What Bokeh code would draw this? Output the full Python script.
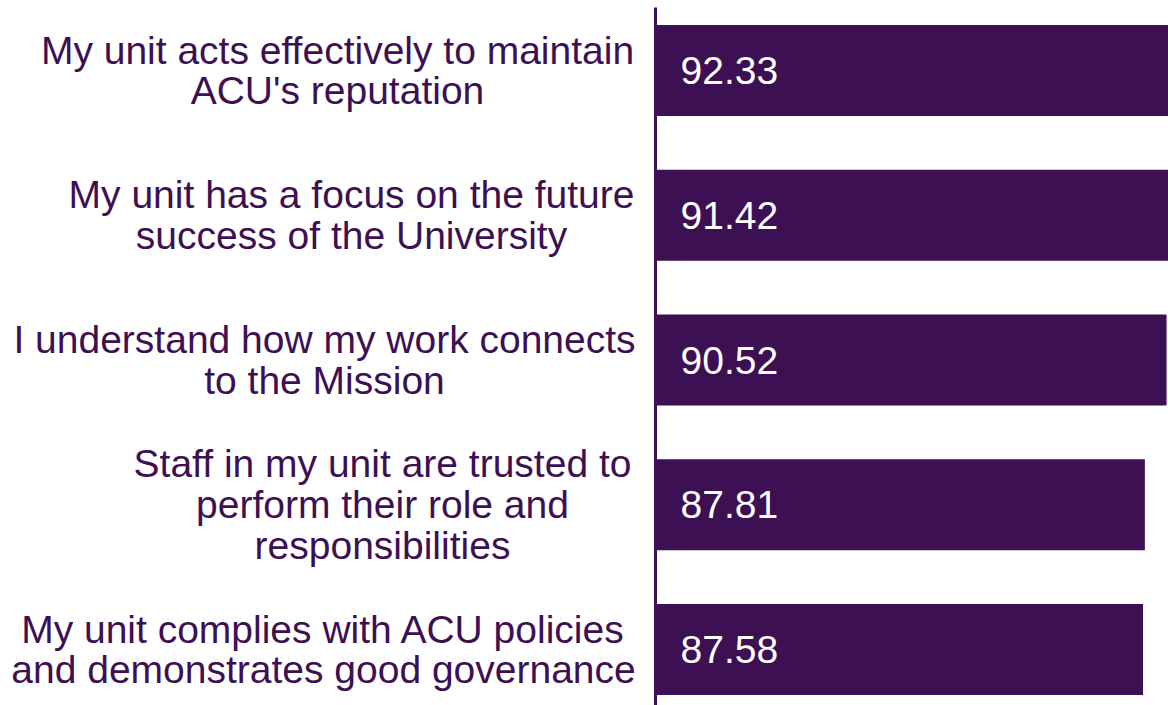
from bokeh.plotting import figure
from bokeh.layouts import row
from bokeh.models import ColumnDataSource, Range1d
from bokeh.core.properties import value
from bokeh.embed import file_html
from bokeh.resources import INLINE

# ---- data ----
categories = [
    "My unit acts effectively to maintain\nACU's reputation",
    "My unit has a focus on the future\nsuccess of the University",
    "I understand how my work connects\nto the Mission",
    "Staff in my unit are trusted to\nperform their role and\nresponsibilities",
    "My unit complies with ACU policies\nand demonstrates good governance",
]
scores = [92.33, 91.42, 90.52, 87.81, 87.58]
score_labels = ["92.33", "91.42", "90.52", "87.81", "87.58"]

# ---- layout / style constants ----
PURPLE = "#3C1053"
FONT = "Liberation Sans"
FS = "39px"
H = 705
LEFT_W = 650
RIGHT_W = 518
PX_PER_UNIT = 8.0
ROW_PX = 144.75
FIRST_ROW_PX = 70.0
BAR_PX = 91.0
BAR_START = 26.64            # value at which bars begin (axis position)
label_cx = [337, 351, 324, 382, 323]   # horizontal centres of label blocks (page px)

ypos = list(range(len(categories)))
y_top = -FIRST_ROW_PX / ROW_PX
y_bot = y_top + H / ROW_PX
y_range = Range1d(start=y_bot, end=y_top)

# ---- left figure: category labels ----
left = figure(width=LEFT_W, height=H, output_backend="svg", toolbar_location=None,
              x_range=Range1d(0, LEFT_W), y_range=y_range, min_border=0)
left.axis.visible = False
left.grid.visible = False
left.outline_line_color = None
lsrc = ColumnDataSource(dict(x=label_cx, y=ypos, t=categories))
left.text(x="x", y="y", text="t", source=lsrc, text_align="center",
          text_baseline="middle", text_font=value(FONT), text_font_size=FS,
          text_color=PURPLE, text_line_height=0.95)

# ---- right figure: bars ----
x_start = BAR_START - 5 / PX_PER_UNIT
right = figure(width=RIGHT_W, height=H, output_backend="svg", toolbar_location=None,
               x_range=Range1d(x_start, x_start + RIGHT_W / PX_PER_UNIT),
               y_range=y_range, min_border=0)
right.axis.visible = False
right.grid.visible = False
right.outline_line_color = None
bsrc = ColumnDataSource(dict(y=ypos, v=scores, t=score_labels,
                             l=[BAR_START] * len(scores)))
right.hbar(y="y", left="l", right="v", height=BAR_PX / ROW_PX, source=bsrc,
           fill_color=PURPLE, line_color=None)
right.text(x="l", y="y", text="t", source=bsrc, x_offset=25, text_align="left",
           text_baseline="middle", text_font=value(FONT), text_font_size=FS,
           text_color="white")
# vertical axis line
right.segment(x0=[BAR_START], y0=[y_top + 7 / ROW_PX], x1=[BAR_START], y1=[y_bot],
              line_color=PURPLE, line_width=3)

p = row(left, right)
open("out.html", "w").write(file_html(p, INLINE))
